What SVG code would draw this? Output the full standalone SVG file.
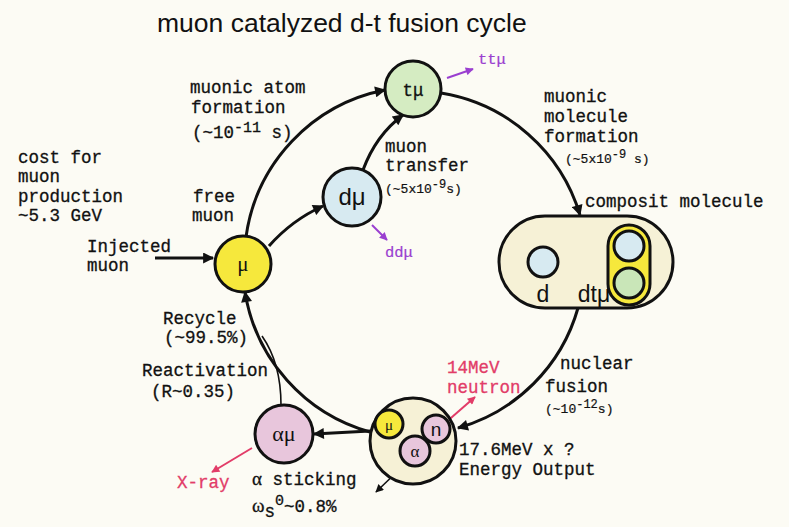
<svg xmlns="http://www.w3.org/2000/svg" width="789" height="527" viewBox="0 0 789 527">
<style>
.t{font-family:"Liberation Mono","DejaVu Sans Mono",monospace;font-size:17.5px;fill:#111;stroke:#111;stroke-width:0.3}
.s{font-family:"Liberation Mono","DejaVu Sans Mono",monospace;font-size:13px;fill:#111;stroke:#111;stroke-width:0.2}
.node{stroke:#111;stroke-width:3}
.lab{font-family:"Liberation Sans",Arial,sans-serif;fill:#111;text-anchor:middle}
.serif{font-family:"Liberation Serif","Times New Roman",serif;fill:#111;text-anchor:middle}
.conn{fill:none;stroke:#111;stroke-width:3}
.thin{fill:none;stroke:#111;stroke-width:1.6}
.pur{fill:none;stroke:#9a3fd0;stroke-width:2}
.red{fill:none;stroke:#e23c68;stroke-width:2}
</style>
<defs>
<marker id="ah" viewBox="0 0 10 10" refX="9" refY="5" markerWidth="13" markerHeight="11" markerUnits="userSpaceOnUse" orient="auto"><path d="M0,0 L10,5 L0,10 z" fill="#111"/></marker>
<marker id="ahs" viewBox="0 0 10 10" refX="9" refY="5" markerWidth="10" markerHeight="8" markerUnits="userSpaceOnUse" orient="auto"><path d="M0,0 L10,5 L0,10 z" fill="#111"/></marker>
<marker id="ahp" viewBox="0 0 10 10" refX="9" refY="5" markerWidth="10" markerHeight="8" markerUnits="userSpaceOnUse" orient="auto"><path d="M0,0 L10,5 L0,10 z" fill="#9a3fd0"/></marker>
<marker id="ahr" viewBox="0 0 10 10" refX="9" refY="5" markerWidth="11" markerHeight="8" markerUnits="userSpaceOnUse" orient="auto"><path d="M0,0 L10,5 L0,10 z" fill="#e23c68"/></marker>
</defs>
<rect width="789" height="527" fill="#fcfbf4"/>
<text x="157" y="32" font-family="'Liberation Sans',Arial,sans-serif" font-size="26.5" fill="#111">muon catalyzed d-t fusion cycle</text>

<g id="connectors">
<path class="conn" d="M246 237 A174 174 0 0 1 385 90" marker-end="url(#ah)"/>
<path class="conn" d="M441 93 A174 174 0 0 1 580 215" marker-end="url(#ah)"/>
<path class="conn" d="M578 308 A174 174 0 0 1 458 428" marker-end="url(#ah)"/>
<path class="conn" d="M370 432 A174 174 0 0 1 245 292" marker-end="url(#ah)"/>
<path class="conn" d="M269 246 Q292 220 323 206" marker-end="url(#ah)"/>
<path class="conn" d="M363 170 Q376 135 403 115" marker-end="url(#ah)"/>
<path class="conn" d="M155 258 L213 258" marker-end="url(#ah)"/>
<path class="conn" d="M370 431 L314 434" marker-end="url(#ah)"/>
<path class="thin" d="M281 405 C281 380 276 356 262 336"/>
<path class="thin" d="M403 466 L376 492" marker-end="url(#ahs)"/>
<path class="pur" d="M447 78 L473 69" marker-end="url(#ahp)"/>
<path class="pur" d="M372 225 L387 240" marker-end="url(#ahp)"/>
<path class="red" d="M252 448 L212 472" marker-end="url(#ahr)"/>
<path class="red" d="M444 424 L475 397" marker-end="url(#ahr)"/>
</g>

<g id="node-tmu">
<circle class="node" cx="413" cy="89" r="28" fill="#d5ecc2"/>
<text class="t" x="413" y="96" font-size="21" text-anchor="middle">tμ</text>
</g>
<g id="node-dmu">
<circle class="node" cx="352" cy="197" r="29" fill="#d7eaf1"/>
<text class="lab" x="352" y="205" font-size="24">dμ</text>
</g>
<g id="node-mu">
<circle class="node" cx="243" cy="264" r="28" fill="#f6e83c"/>
<text class="serif" x="243" y="271" font-size="21">μ</text>
</g>
<g id="node-composite">
<rect class="node" x="499" y="216" width="174" height="92" rx="46" fill="#f6f1d6"/>
<circle class="node" cx="543" cy="262" r="15" fill="#d7eaf1"/>
<rect class="node" x="608" y="225" width="42" height="80" rx="21" fill="#f6e83c"/>
<circle class="node" cx="629" cy="246" r="15" fill="#d7eaf1"/>
<circle class="node" cx="629" cy="283" r="15" fill="#c9e6b8"/>
<text class="lab" x="543" y="302" font-size="23">d</text>
<text class="lab" x="594" y="302" font-size="23">dtμ</text>
</g>
<g id="node-fusion">
<circle class="node" cx="413" cy="441" r="43" fill="#f6f1d6"/>
<circle class="node" cx="389" cy="424" r="14" fill="#f6e83c"/>
<text class="serif" x="389" y="430" font-size="15">μ</text>
<circle class="node" cx="436" cy="429" r="14" fill="#e8c6dc"/>
<text class="lab" x="436" y="436" font-size="19">n</text>
<circle class="node" cx="415" cy="451" r="15" fill="#e8c6dc"/>
<text class="serif" x="415" y="457" font-size="17">α</text>
</g>
<g id="node-amu">
<circle class="node" cx="284" cy="434" r="29" fill="#e8c6dc"/>
<text class="serif" x="284" y="441" font-size="22">αμ</text>
</g>

<g id="labels">
<text class="t" x="190" y="93">muonic atom</text>
<text class="t" x="191" y="113">formation</text>
<text class="t" x="192" y="138">(~10<tspan dy="-6" font-size="15">-11</tspan><tspan dy="6"> s)</tspan></text>

<text class="t" x="544" y="102">muonic</text>
<text class="t" x="544" y="122">molecule</text>
<text class="t" x="544" y="142">formation</text>
<text class="s" x="565" y="163">(~5x10<tspan dy="-5" font-size="12">-9</tspan><tspan dy="5"> s)</tspan></text>

<text class="t" x="385" y="152">muon</text>
<text class="t" x="385" y="171">transfer</text>
<text class="s" x="385" y="193">(~5x10<tspan dy="-5" font-size="12">-9</tspan><tspan dy="5">s)</tspan></text>

<text class="t" x="18" y="163">cost for</text>
<text class="t" x="18" y="182">muon</text>
<text class="t" x="18" y="202">production</text>
<text class="t" x="18" y="221">~5.3 GeV</text>

<text class="t" x="193" y="202">free</text>
<text class="t" x="192" y="221">muon</text>

<text class="t" x="87" y="252">Injected</text>
<text class="t" x="87" y="271">muon</text>

<text class="t" x="585" y="207">composit molecule</text>

<text class="t" x="163" y="324">Recycle</text>
<text class="t" x="164" y="343">(~99.5%)</text>
<text class="t" x="142" y="376">Reactivation</text>
<text class="t" x="151" y="397">(R~0.35)</text>

<text class="t" x="252" y="485"><tspan font-family="'Liberation Serif',serif" font-size="19">α</tspan> sticking</text>
<text class="t" x="252" y="512"><tspan font-family="'Liberation Serif',serif" font-size="19">ω</tspan><tspan dy="5">s</tspan><tspan dy="-12" font-size="15">0</tspan><tspan dy="7">~0.8%</tspan></text>

<text class="t" x="177" y="488" style="fill:#e23c68;stroke:#e23c68">X-ray</text>

<text class="t" x="447" y="373" style="fill:#e23c68;stroke:#e23c68">14MeV</text>
<text class="t" x="447" y="393" style="fill:#e23c68;stroke:#e23c68">neutron</text>

<text class="t" x="560" y="369">nuclear</text>
<text class="t" x="545" y="392">fusion</text>
<text class="s" x="545" y="413">(~10<tspan dy="-5" font-size="12">-12</tspan><tspan dy="5">s)</tspan></text>

<text class="t" x="459" y="455">17.6MeV x ?</text>
<text class="t" x="459" y="475">Energy Output</text>

<text class="s" x="478" y="64" style="fill:#9a3fd0;stroke:#9a3fd0;font-size:15.5px">ttμ</text>
<text class="s" x="385" y="257" style="fill:#9a3fd0;stroke:#9a3fd0;font-size:15.5px">ddμ</text>
</g>
</svg>
